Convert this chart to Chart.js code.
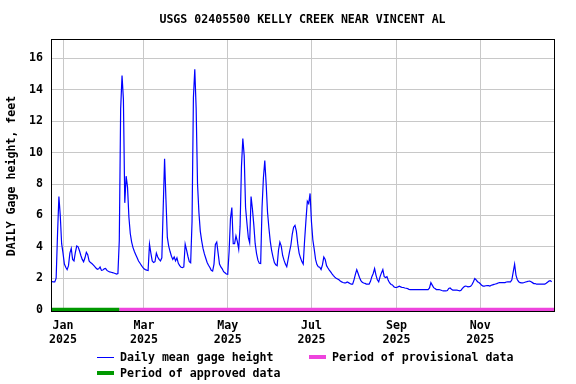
<!DOCTYPE html>
<html>
<head>
<meta charset="utf-8">
<title>USGS 02405500 KELLY CREEK NEAR VINCENT AL</title>
<script src="https://cdn.jsdelivr.net/npm/chart.js@4.4.1/dist/chart.umd.min.js"></script>
<style>
  html, body { margin: 0; padding: 0; background: #fff; }
</style>
</head>
<body>
<canvas id="gageChart" width="576" height="384"></canvas>
<script>
(() => {
  'use strict'

  // Chart text
  const stationTitle = 'USGS 02405500 KELLY CREEK NEAR VINCENT AL';
  const yAxisTitle = 'DAILY Gage height, feet';
  const seriesNames = ['Daily mean gage height', 'Period of provisional data', 'Period of approved data'];

  // Daily mean gage height, feet, one value per day starting at firstDate
  const firstDate = '2024-12-24';
  const gageHeight = [
    1.78, 1.77, 1.77, 2.0, 4.8, 7.2, 6.0, 4.2, 3.6, 2.9,
    2.7, 2.55, 2.8, 3.6, 3.9, 3.2, 3.1, 3.65, 4.05, 4.0,
    3.75, 3.45, 3.2, 3.05, 3.3, 3.65, 3.5, 3.1, 3.0, 2.94,
    2.85, 2.75, 2.65, 2.57, 2.6, 2.72, 2.5, 2.52, 2.6, 2.62,
    2.5, 2.44, 2.4, 2.38, 2.36, 2.33, 2.3, 2.27, 2.3, 4.4,
    12.8, 14.9, 13.4, 6.8, 8.5, 7.8, 5.9, 4.85, 4.3, 3.95,
    3.7, 3.5, 3.3, 3.1, 2.97, 2.83, 2.7, 2.6, 2.55, 2.52,
    2.5, 4.17, 3.6, 3.1, 3.0, 3.05, 3.6, 3.35, 3.2, 3.1,
    3.3, 6.5, 9.6, 7.0, 4.6, 4.05, 3.7, 3.4, 3.2, 3.35,
    3.1, 3.3, 2.95, 2.8, 2.7, 2.68, 2.72, 4.17, 3.8, 3.4,
    3.05, 2.98, 5.6, 13.5, 15.3, 12.8, 8.0, 6.2, 5.0, 4.4,
    3.9, 3.55, 3.27, 3.0, 2.83, 2.68, 2.5, 2.45, 2.9, 4.15,
    4.3, 3.6, 2.9, 2.72, 2.6, 2.42, 2.35, 2.27, 2.25, 3.7,
    5.8, 6.5, 4.2, 4.2, 4.7, 4.35, 3.85, 5.3, 9.1, 10.9,
    9.8, 6.5, 5.5, 4.6, 4.25, 7.2, 6.4, 5.4, 4.2, 3.57,
    3.15, 2.95, 2.94, 6.5, 8.4, 9.5, 8.0, 6.2, 5.2, 4.35,
    3.75, 3.35, 3.0, 2.85, 2.8, 3.8, 4.3, 4.05, 3.45, 3.15,
    2.9, 2.73, 3.2, 3.68, 4.1, 4.8, 5.25, 5.37, 5.0, 4.2,
    3.6, 3.3, 3.06, 2.9, 4.4, 5.7, 6.9, 6.75, 7.4, 5.6,
    4.45, 3.85, 3.2, 2.87, 2.73, 2.7, 2.56, 2.85, 3.35, 3.2,
    2.8, 2.65, 2.52, 2.4, 2.28, 2.17, 2.07, 2.0, 1.95, 1.9,
    1.82, 1.77, 1.73, 1.71, 1.7, 1.76, 1.72, 1.67, 1.62, 1.62,
    1.9, 2.25, 2.55, 2.3, 2.05, 1.85, 1.75, 1.7, 1.67, 1.63,
    1.62, 1.62, 1.8, 2.1, 2.3, 2.62, 2.2, 1.9, 1.77, 2.1,
    2.34, 2.55, 2.1, 2.05, 2.1, 1.85, 1.7, 1.6, 1.57, 1.46,
    1.42, 1.41, 1.45, 1.49, 1.45, 1.41, 1.41, 1.38, 1.36, 1.34,
    1.29, 1.28, 1.28, 1.28, 1.28, 1.28, 1.28, 1.28, 1.28, 1.28,
    1.28, 1.28, 1.28, 1.28, 1.28, 1.38, 1.72, 1.56, 1.4, 1.35,
    1.28, 1.28, 1.28, 1.25, 1.22, 1.2, 1.19, 1.19, 1.22, 1.35,
    1.38, 1.3, 1.24, 1.24, 1.24, 1.24, 1.22, 1.2, 1.24, 1.35,
    1.44, 1.5, 1.49, 1.45, 1.47, 1.49, 1.6, 1.78, 1.98, 1.9,
    1.78, 1.73, 1.65, 1.55, 1.5, 1.5, 1.52, 1.53, 1.53, 1.5,
    1.55, 1.58, 1.61, 1.63, 1.66, 1.7, 1.72, 1.72, 1.72, 1.72,
    1.72, 1.76, 1.77, 1.77, 1.77, 1.9, 2.4, 2.89, 2.2, 1.9,
    1.78, 1.72, 1.7, 1.7, 1.73, 1.76, 1.78, 1.81, 1.82, 1.77,
    1.72, 1.66, 1.66, 1.62, 1.62, 1.62, 1.62, 1.62, 1.62, 1.62,
    1.68, 1.75, 1.82, 1.85, 1.78
  ];

  // Data-quality periods (start, end)
  const approvedPeriod = ['2024-12-23', '2025-02-11'];
  const provisionalPeriod = ['2025-02-11', '2025-12-25'];

  // Axis ticks
  const monthTicks = ['2025-01-01', '2025-03-01', '2025-05-01', '2025-07-01', '2025-09-01', '2025-11-01'];
  const monthLabels = [['Jan', '2025'], ['Mar', '2025'], ['May', '2025'], ['Jul', '2025'], ['Sep', '2025'], ['Nov', '2025']];
  const yTicks = [0, 2, 4, 6, 8, 10, 12, 14, 16];

  // Days since Jan 1 2025, used as the x value
  const origin = Date.UTC(2025, 0, 1);
  function dayOffset(dateStr) {
    return (new Date(dateStr).getTime() - origin) / 86400000;
  }

  const startDay = dayOffset(firstDate);
  const linePoints = gageHeight.map((v, i) => ({ x: startDay + i, y: v }));
  const periodPoints = p => p.map(d => ({ x: dayOffset(d), y: 0 }));

  const FONT = { family: 'DejaVu Sans Mono', size: 11.6, weight: 'bold' };
  const fontStr = `bold ${FONT.size}px "${FONT.family}"`;

  // Title, frame and legend, drawn the USGS way
  const usgsDecor = {
    id: 'usgsDecor',
    afterDraw(chart) {
      const { ctx, chartArea: a } = chart;
      ctx.save();

      ctx.strokeStyle = '#000';
      ctx.lineWidth = 1;
      ctx.strokeRect(Math.round(a.left) + 0.5, Math.round(a.top) - 0.5,
        Math.round(a.right - a.left), Math.round(a.bottom - a.top));

      ctx.font = fontStr;
      ctx.fillStyle = '#000';
      ctx.textBaseline = 'middle';
      ctx.textAlign = 'center';
      ctx.fillText(stationTitle, (a.left + a.right) / 2, 20);

      ctx.textAlign = 'left';
      const rows = [
        { x: 97, y: 357, color: '#0000ff', width: 1, text: seriesNames[0] },
        { x: 309, y: 357, color: '#ee44dd', width: 4, text: seriesNames[1] },
        { x: 97, y: 373, color: '#009900', width: 4, text: seriesNames[2] }
      ];
      rows.forEach(r => {
        const yy = r.width === 1 ? r.y + 0.5 : r.y;
        ctx.strokeStyle = r.color;
        ctx.lineWidth = r.width;
        ctx.beginPath();
        ctx.moveTo(r.x, yy);
        ctx.lineTo(r.x + 17, yy);
        ctx.stroke();
        ctx.fillText(r.text, r.x + 23, r.y + 1);
      });

      ctx.restore();
    }
  };

  new Chart(document.getElementById('gageChart'), {
    type: 'line',
    data: {
      datasets: [
        {
          label: seriesNames[2],
          data: periodPoints(approvedPeriod),
          borderColor: '#009900',
          borderWidth: 4,
          pointRadius: 0,
          clip: 0
        },
        {
          label: seriesNames[1],
          data: periodPoints(provisionalPeriod),
          borderColor: '#ee44dd',
          borderWidth: 4,
          pointRadius: 0,
          clip: 0
        },
        {
          label: seriesNames[0],
          data: linePoints,
          borderColor: '#0000ff',
          borderWidth: 1.2,
          pointRadius: 0,
          tension: 0
        }
      ]
    },
    options: {
      responsive: false,
      animation: false,
      layout: { padding: { top: 40, right: 22, bottom: 0, left: 0 } },
      plugins: {
        legend: { display: false },
        tooltip: { enabled: false },
        title: { display: false }
      },
      scales: {
        x: {
          type: 'linear',
          min: -8.75,
          max: 357.7,
          afterBuildTicks: s => { s.ticks = monthTicks.map(d => ({ value: dayOffset(d) })); },
          afterFit: s => { s.height = 72; },
          grid: { color: '#c8c8c8', drawTicks: false },
          border: { display: false },
          ticks: {
            autoSkip: false,
            maxRotation: 0,
            minRotation: 0,
            padding: 7,
            color: '#000',
            font: FONT,
            callback: (v, i) => monthLabels[i]
          }
        },
        y: {
          min: -0.15,
          max: 17.17,
          afterBuildTicks: s => { s.ticks = yTicks.map(v => ({ value: v })); },
          afterFit: s => { s.width = 51; },
          grid: { color: '#c8c8c8', drawTicks: false },
          border: { display: false },
          title: {
            display: true,
            text: yAxisTitle,
            color: '#000',
            font: FONT,
            padding: { top: 5, bottom: 0 }
          },
          ticks: {
            padding: 8,
            color: '#000',
            font: FONT
          }
        }
      }
    },
    plugins: [usgsDecor]
  });
})();
</script>
</body>
</html>
